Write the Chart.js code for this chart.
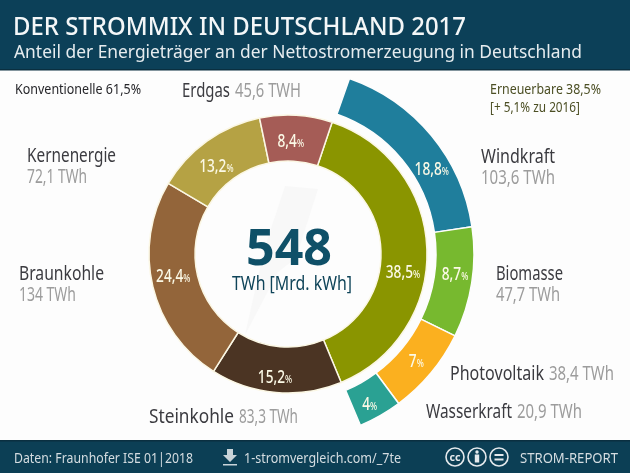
<!DOCTYPE html>
<html lang="de">
<head>
<meta charset="utf-8">
<title>Strommix Deutschland 2017</title>
<script src="https://cdn.jsdelivr.net/npm/chart.js@4"></script>
<style>
html, body { margin: 0; padding: 0; background: #fdfdfd; }
#wrap { position: relative; width: 630px; height: 473px; overflow: hidden; }
</style>
</head>
<body>
<div id="wrap"><canvas id="stromChart" width="630" height="473"></canvas></div>
<script>
// Inner ring: share of net generation in percent
const mixLabels = ["Erneuerbare", "Steinkohle", "Braunkohle", "Kernenergie", "Erdgas"];
const mixValues = [38.5, 15.2, 24.4, 13.2, 8.4];
const mixPercent = ["38,5", "15,2", "24,4", "13,2", "8,4"];

// Outer ring: arc widths as drawn in the picture (degrees), they are not strictly proportional there
const erneuerbareLabels = ["Windkraft", "Biomasse", "Photovoltaik", "Wasserkraft"];
const erneuerbareArcs = [62.3, 34.5, 27.4, 13.6];
const erneuerbarePercent = ["18,8", "8,7", "7", "4"];

const mixTWh = ["83,3 TWh", "134 TWh", "72,1 TWh", "45,6 TWH"];
const erneuerbareTWh = ["103,6 TWh", "47,7 TWh", "38,4 TWh", "20,9 TWh"];

const mixColors = ["#8a9500", "#4b3423", "#93653a", "#b5a244", "#a55c56"];
const erneuerbareColors = ["#1f7e9c", "#77b92f", "#fbb01f", "#2aa193"];

const FONT = '"Noto Sans", sans-serif';
const NAME_COLOR = "#3b3b40";
const VALUE_COLOR = "#9c9c9c";

// draws text squeezed to a given width, the original face is a condensed one
function fitText(ctx, text, x, y, width, font, color) {
    ctx.save();
    ctx.font = font;
    ctx.fillStyle = color;
    ctx.textAlign = "left";
    ctx.textBaseline = "alphabetic";
    ctx.translate(x, y);
    ctx.scale(width / ctx.measureText(text).width, 1);
    ctx.fillText(text, 0, 0);
    ctx.restore();
}

// Header, footer, faint bolt
const backdrop = {
    id: "backdrop",
    beforeDraw(chart) {
        const { ctx } = chart;
        ctx.save();
        ctx.fillStyle = "#fdfdfd";
        ctx.fillRect(0, 0, 630, 473);
        ctx.fillStyle = "#0c4058";
        ctx.fillRect(0, 0, 630, 69);
        ctx.fillStyle = "#0a2f40";
        ctx.fillRect(0, 69, 630, 1.5);
        ctx.fillStyle = "#0c3f55";
        ctx.fillRect(0, 441, 630, 32);
        ctx.fillStyle = "#0a2f40";
        ctx.fillRect(0, 440, 630, 1.5);

        ctx.fillStyle = "#f8f8f8";
        ctx.beginPath();
        ctx.moveTo(285, 186);
        ctx.lineTo(318, 189);
        ctx.lineTo(296, 258);
        ctx.lineTo(278, 272);
        ctx.lineTo(245, 335);
        ctx.lineTo(264, 250);
        ctx.closePath();
        ctx.fill();
        ctx.restore();
    }
};

// Percent labels on the slices, nudged off the arc middle like in the picture
const mixNudge = [[-1, 22], [-3, 7], [-2, -6], [-4, 6], [-4, 2]];
const erneuerbareNudge = [[15, 21], [2, -6], [0, 0], [-1, 4]];

function drawPercent(ctx, arc, text, nudge) {
    const p = arc.getCenterPoint();
    const numFont = "500 18px " + FONT;
    const pctFont = "500 11px " + FONT;
    const squeeze = 0.76;
    ctx.save();
    ctx.font = numFont;
    const numW = ctx.measureText(text).width * squeeze;
    ctx.font = pctFont;
    const pctW = ctx.measureText("%").width * squeeze;
    const x = p.x + nudge[0] - (numW + pctW) / 2;
    const y = p.y + nudge[1] + 6.5;
    fitText(ctx, text, x, y, numW, numFont, "#fbf9e6");
    fitText(ctx, "%", x + numW, y, pctW, pctFont, "#fbf9e6");
    ctx.restore();
}

function drawFooterIcons(ctx) {
    const line = "#e4e9ec";
    ctx.save();
    // download arrow
    ctx.fillStyle = "#c9d4d9";
    ctx.beginPath();
    ctx.moveTo(227, 449);
    ctx.lineTo(233, 449);
    ctx.lineTo(233, 455);
    ctx.lineTo(237, 455);
    ctx.lineTo(230, 462);
    ctx.lineTo(223, 455);
    ctx.lineTo(227, 455);
    ctx.closePath();
    ctx.fill();
    ctx.fillRect(223, 464, 14, 1.5);

    ctx.strokeStyle = line;
    ctx.fillStyle = line;
    ctx.lineWidth = 1.6;
    [455, 477, 499].forEach(cx => {
        ctx.beginPath();
        ctx.arc(cx, 457, 9, 0, Math.PI * 2);
        ctx.stroke();
    });
    fitText(ctx, "cc", 449.5, 460.5, 11, "700 11px " + FONT, line);
    // person
    ctx.beginPath();
    ctx.arc(477, 452, 1.7, 0, Math.PI * 2);
    ctx.fill();
    ctx.fillRect(474.8, 454.5, 4.4, 8);
    // equals
    ctx.fillRect(494.5, 454, 9, 2);
    ctx.fillRect(494.5, 458.5, 9, 2);
    ctx.restore();
}

const texts = {
    id: "texts",
    afterDraw(chart) {
        const { ctx } = chart;
        fitText(ctx, "DER STROMMIX IN DEUTSCHLAND 2017", 13, 35, 453, "500 25px " + FONT, "#f4f7f8");
        fitText(ctx, "Anteil der Energieträger an der Nettostromerzeugung in Deutschland", 14, 58, 568, "400 18px " + FONT, "#e6ecef");

        fitText(ctx, "Konventionelle 61,5%", 15, 94, 126, "400 15px " + FONT, "#26262a");
        fitText(ctx, "Erneuerbare 38,5%", 490, 94, 111, "400 15px " + FONT, "#4c4f24");
        fitText(ctx, "[+ 5,1% zu 2016]", 490, 112, 90, "400 15px " + FONT, "#4c4f24");

        const name = "400 20.5px " + FONT;
        fitText(ctx, mixLabels[4], 182, 97, 48, name, NAME_COLOR);
        fitText(ctx, mixTWh[3], 235, 97, 66, name, VALUE_COLOR);
        fitText(ctx, mixLabels[3], 27, 162, 89, name, NAME_COLOR);
        fitText(ctx, mixTWh[2], 27, 183, 60, name, VALUE_COLOR);
        fitText(ctx, mixLabels[2], 19, 280, 85, name, NAME_COLOR);
        fitText(ctx, mixTWh[1], 19, 301, 57, name, VALUE_COLOR);
        fitText(ctx, mixLabels[1], 149, 423, 85, name, NAME_COLOR);
        fitText(ctx, mixTWh[0], 239, 423, 59, name, VALUE_COLOR);

        fitText(ctx, erneuerbareLabels[0], 481, 163, 74, name, NAME_COLOR);
        fitText(ctx, erneuerbareTWh[0], 481, 184, 74, name, VALUE_COLOR);
        fitText(ctx, erneuerbareLabels[1], 496, 280, 67, name, NAME_COLOR);
        fitText(ctx, erneuerbareTWh[1], 496, 301, 64, name, VALUE_COLOR);
        fitText(ctx, erneuerbareLabels[2], 450, 380, 94, name, NAME_COLOR);
        fitText(ctx, erneuerbareTWh[2], 549, 380, 65, name, VALUE_COLOR);
        fitText(ctx, erneuerbareLabels[3], 426, 418, 86, name, NAME_COLOR);
        fitText(ctx, erneuerbareTWh[3], 517, 418, 65, name, VALUE_COLOR);

        fitText(ctx, "548", 246, 265, 86, "700 51px " + FONT, "#0f5068");
        fitText(ctx, "TWh [Mrd. kWh]", 232, 290, 120, "400 20px " + FONT, "#0f4459");

        chart.getDatasetMeta(2).data.forEach((arc, i) => drawPercent(ctx, arc, mixPercent[i], mixNudge[i]));
        chart.getDatasetMeta(0).data.forEach((arc, i) => drawPercent(ctx, arc, erneuerbarePercent[i], erneuerbareNudge[i]));

        fitText(ctx, "Daten: Fraunhofer ISE 01|2018", 14, 463, 179, "400 15px " + FONT, "#d5dde1");
        fitText(ctx, "1-stromvergleich.com/_7te", 244, 463, 157, "400 15px " + FONT, "#d5dde1");
        fitText(ctx, "STROM-REPORT", 520, 463, 98, "400 15px " + FONT, "#d5dde1");
        drawFooterIcons(ctx);
    }
};

new Chart(document.getElementById("stromChart"), {
    type: "doughnut",
    data: {
        labels: mixLabels,
        datasets: [
            {
                data: erneuerbareArcs,
                backgroundColor: erneuerbareColors,
                borderColor: "#fdfdfd",
                borderWidth: 1.5,
                rotation: 19.3,
                circumference: 137.8,
                weight: 38
            },
            // empty ring, only keeps the white gap between the two rings
            { data: [], weight: 9 },
            {
                data: mixValues,
                backgroundColor: mixColors,
                borderColor: "#fbf7e4",
                borderWidth: 1.5,
                rotation: 18.5,
                weight: 46
            }
        ]
    },
    options: {
        responsive: false,
        animation: false,
        radius: 186,
        cutout: "50%",
        layout: { padding: { left: 0, right: 54, top: 68, bottom: 33 } },
        plugins: { legend: { display: false }, tooltip: { enabled: false } }
    },
    plugins: [backdrop, texts]
});
</script>
</body>
</html>
